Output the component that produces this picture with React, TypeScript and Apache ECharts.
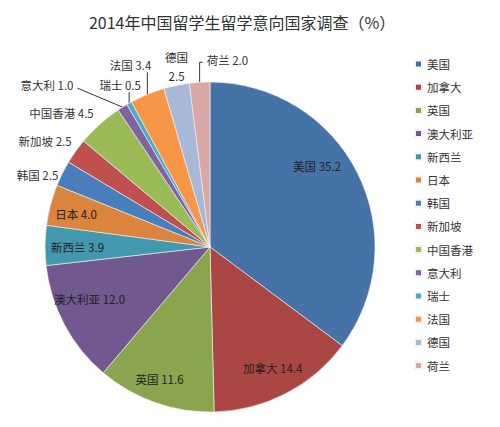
import React, { useEffect, useRef } from "react";
import * as echarts from "echarts";

const countries = ["美国", "加拿大", "英国", "澳大利亚", "新西兰", "日本", "韩国", "新加坡", "中国香港", "意大利", "瑞士", "法国", "德国", "荷兰"];
const shares = [35.2, 14.4, 11.6, 12.0, 3.9, 4.0, 2.5, 2.5, 4.5, 1.0, 0.5, 3.4, 2.5, 2.0];
const sliceColors = ["#4572A7", "#AA4643", "#89A54E", "#71588F", "#4198AF", "#DB843D", "#4A7EBB", "#C0504D", "#9BBB59", "#8064A2", "#4BACC6", "#F79646", "#A7B9D7", "#D9A7A6"];
const insideCount = 6;
const titleText = "2014年中国留学生留学意向国家调查（%）";

const FONT = "'Noto Sans CJK SC', 'Noto Sans', sans-serif";
const CX = 210;
const CY = 247;
const R = 165;

// label placement styles relative to the slice's outer edge point
type Place = { dx: number; dy: number; align: string; line?: number[][] };
const outsidePlace: Record<number, Place> = {
  6: { dx: -4, dy: 2, align: "right" },
  7: { dx: -4, dy: -10, align: "right" },
  8: { dx: -6, dy: -11, align: "right" },
  9: { dx: -49, dy: -22, align: "right", line: [[-45, -19]] },
  10: { dx: -9, dy: -18, align: "center", line: [[0, -11]] },
  11: { dx: 4, dy: -29, align: "right", line: [[0, -22]] },
  12: { dx: 0, dy: -19, align: "center" },
  13: { dx: 7, dy: -22, align: "left", line: [[0, -20], [3, -20]] },
};
const insideShift: Record<number, number[]> = {
  0: [-15, -20],
  2: [-5, 3],
  3: [0, -12],
  5: [-2, 2],
  4: [4, 1],
};

const total = shares.reduce((a, b) => a + b, 0);
function edgePoint(idx: number) {
  let cum = 0;
  for (let i = 0; i < idx; i++) cum += shares[i];
  const theta = ((90 - (360 * (cum + shares[idx] / 2)) / total) * Math.PI) / 180;
  return [CX + R * Math.cos(theta), CY - R * Math.sin(theta)];
}

export default function App() {
  const ref = useRef<HTMLDivElement>(null);
  useEffect(() => {
    if (!ref.current) return;
    const chart = echarts.init(ref.current, undefined, { renderer: "svg" });
    const fmt = (p: any) => `${p.name} ${Number(p.value).toFixed(1)}`;
    const colored = countries.map((name, i) => ({
      name,
      value: shares[i],
      itemStyle: { color: sliceColors[i] },
      label: {
        show: i >= insideCount,
        formatter: i === 12 ? (p: any) => `${p.name}\n${Number(p.value).toFixed(1)}` : fmt,
        align: outsidePlace[i] ? outsidePlace[i].align : undefined,
      },
      labelLine: { show: i >= insideCount && !!(outsidePlace[i] && outsidePlace[i].line) },
    }));
    const labelRing = countries.map((name, i) => ({
      name,
      value: shares[i],
      label: { show: i < insideCount },
    }));
    chart.setOption({
      animation: false,
      backgroundColor: "#ffffff",
      title: {
        text: titleText,
        left: 237,
        textAlign: "center",
        top: 9,
        textStyle: { fontFamily: FONT, fontSize: 16, fontWeight: "normal", color: "#333" },
      },
      legend: {
        orient: "vertical",
        left: 409,
        top: 52,
        itemWidth: 7,
        itemHeight: 7,
        itemGap: 9.2,
        icon: "rect",
        data: countries,
        textStyle: { fontFamily: FONT, fontSize: 11.5, color: "#333", lineHeight: 14 },
      },
      series: [
        {
          type: "pie",
          center: [CX, CY],
          radius: [0, R],
          startAngle: 90,
          clockwise: true,
          data: colored,
          itemStyle: { borderColor: "#f4f4f4", borderWidth: 0.6 },
          label: { position: "outside", width: 110, overflow: "none", fontFamily: FONT, fontSize: 11.5, color: "#333", lineHeight: 19 },
          labelLine: { length: 6, length2: 4, lineStyle: { color: "#333", width: 1 } },
          labelLayout: (p: any) => {
            const pl = outsidePlace[p.dataIndex];
            if (!pl) return {};
            const [ex, ey] = edgePoint(p.dataIndex);
            const out: any = {
              x: ex + pl.dx,
              y: ey + pl.dy,
              align: pl.align,
              verticalAlign: "middle",
            };
            if (pl.line) {
              out.labelLinePoints = [[ex, ey], ...pl.line.map(([a, b]) => [ex + a, ey + b])];
            }
            return out;
          },
          emphasis: { disabled: true },
        },
        {
          type: "pie",
          center: [CX, CY],
          radius: [102, R],
          startAngle: 90,
          clockwise: true,
          silent: true,
          data: labelRing,
          itemStyle: { color: "rgba(0,0,0,0)" },
          label: { position: "inside", formatter: fmt, fontFamily: FONT, fontSize: 11.5, color: "#222" },
          labelLine: { show: false },
          labelLayout: (p: any) => {
            const s = insideShift[p.dataIndex];
            return s ? { dx: s[0], dy: s[1] } : {};
          },
          emphasis: { disabled: true },
        },
      ],
    });
    return () => chart.dispose();
  }, []);
  return <div ref={ref} style={{ width: 500, height: 427, margin: -8 }} />;
}
